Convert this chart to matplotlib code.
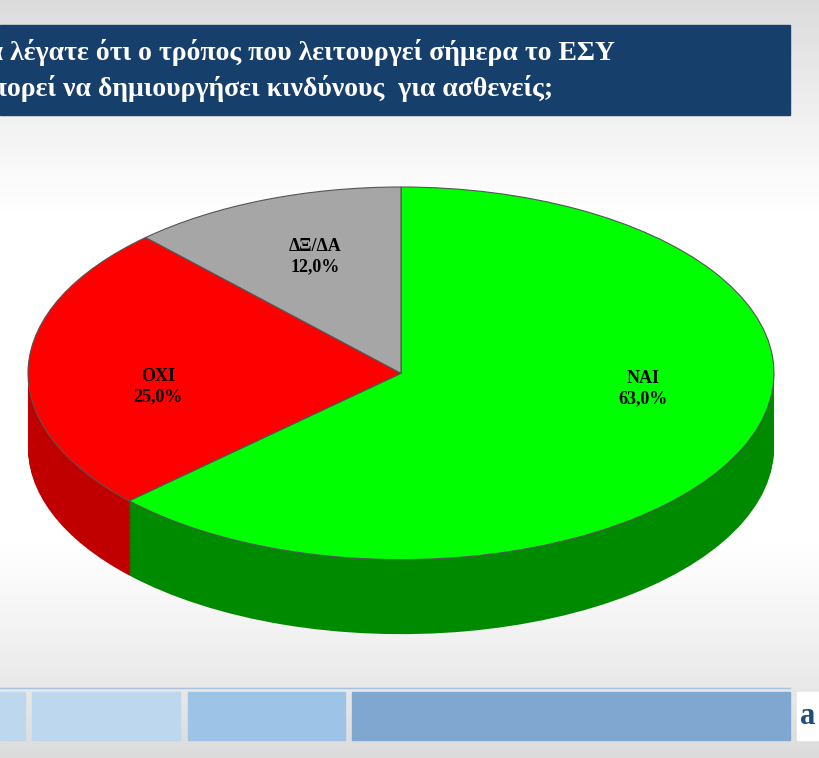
import matplotlib
matplotlib.use("Agg")
import matplotlib.pyplot as plt
import numpy as np
from matplotlib.patches import Rectangle

labels = ["ΝΑΙ", "ΟΧΙ", "ΔΞ/ΔΑ"]
values = [63.0, 25.0, 12.0]
top_colors = ["#00FF00", "#FF0000", "#A6A6A6"]
side_colors = ["#008A00", "#C00000", "#7F7F7F"]
title_lines = ["Θα λέγατε ότι ο τρόπος που λειτουργεί σήμερα το ΕΣΥ",
               "μπορεί να δημιουργήσει κινδύνους  για ασθενείς;"]

W, H = 820, 758
fig = plt.figure(figsize=(W/100, H/100), dpi=100)

bg = fig.add_axes([0, 0, 1, 1])
yy = np.linspace(0, 1, 200)[:, None]
grad = 0.86 + 0.14*np.clip(np.sin(np.pi*yy)*1.3, 0, 1)
bg.imshow(np.dstack([grad, grad, grad])*np.ones((1, 10, 1)), aspect="auto",
          extent=[0, W, H, 0])
bg.set_xlim(0, W); bg.set_ylim(H, 0); bg.axis("off")
bg.add_patch(Rectangle((0, 25), 790, 90, color="#173F6B"))
bg.text(615, 53, title_lines[0], ha="right", va="center", color="white",
        fontsize=20, fontweight="bold", family="Liberation Serif")
bg.text(553, 88, title_lines[1], ha="right", va="center", color="white",
        fontsize=20, fontweight="bold", family="Liberation Serif")
bg.plot([0, 790], [688, 688], color="#A6C4E0", lw=1)
for x0, x1, c in [(0, 25, "#BDD7EE"), (32, 180, "#BDD7EE"), (188, 345, "#9DC3E6"),
                  (352, 790, "#7FA7D0")]:
    bg.add_patch(Rectangle((x0, 692), x1-x0, 48, color=c))
bg.add_patch(Rectangle((797, 692), 23, 48, color="white"))
bg.text(808, 716, "a", ha="center", va="center", fontsize=22, fontweight="bold",
        color="#1F4E79", family="Liberation Serif")

depth = 0.40
ax = fig.add_axes([28/W, (H-636)/H, 746/W, 449/H])
for d in np.linspace(depth, 0.005, 60):
    ax.pie(values, colors=side_colors, startangle=90, counterclock=False,
           center=(0, -d), radius=1, wedgeprops=dict(linewidth=0), frame=True)
ax.pie(values, colors=top_colors, startangle=90, counterclock=False,
       center=(0, 0), radius=1, wedgeprops=dict(linewidth=0.8, edgecolor="#555555"),
       frame=True)
ax.set_aspect("auto")
ax.set_xlim(-1, 1)
ax.set_ylim(-1-depth-0.01, 1)
ax.axis("off")

def px(x, y):
    return ((x-401)/373, -(y-373)/187)

pos = [(643, 388), (158, 386), (315, 256)]
for (x, y), lab, v in zip(pos, labels, values):
    dx, dy = px(x, y)
    ax.text(dx, dy, f"{lab}\n{v:.1f}%".replace(".", ","), ha="center", va="center",
            fontsize=13, fontweight="bold", family="Liberation Serif",
            linespacing=1.25)

fig.savefig("out.png", dpi=100)
